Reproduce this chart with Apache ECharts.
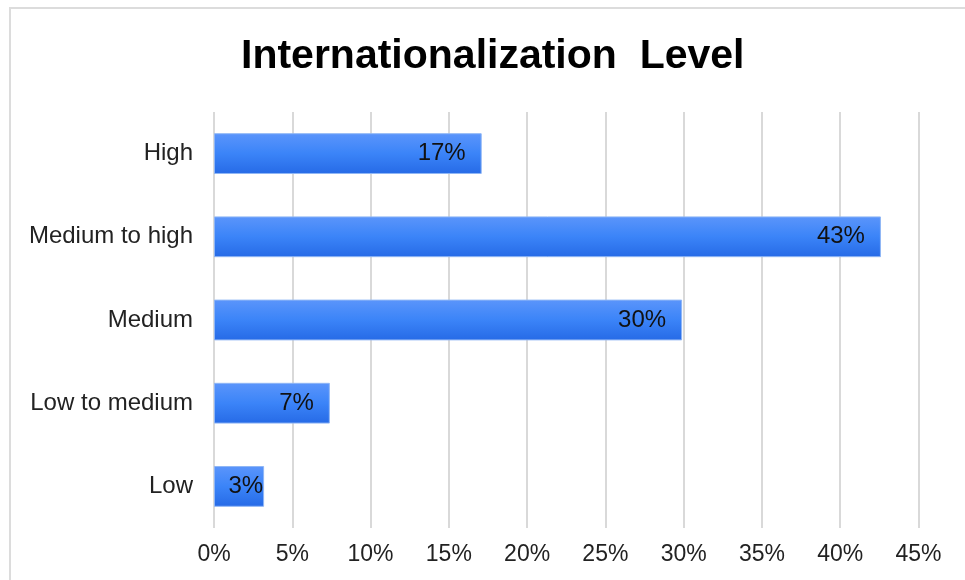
<!DOCTYPE html>
<html>
<head>
<meta charset="utf-8">
<script src="https://cdn.jsdelivr.net/npm/echarts@6/dist/echarts.min.js"></script>
<style>
html,body{margin:0;padding:0;background:#fff;}
#chart{width:965px;height:580px;}
</style>
</head>
<body>
<div id="chart"></div>
<script>
const categories = ["High", "Medium to high", "Medium", "Low to medium", "Low"];
const values = [17.1, 42.6, 29.9, 7.4, 3.2];
const tickLabels = ["0%", "5%", "10%", "15%", "20%", "25%", "30%", "35%", "40%", "45%"];
const titleText = "Internationalization  Level";

const chart = echarts.init(document.getElementById('chart'), null, {renderer: 'canvas'});
const font = '"Liberation Sans", Arial, sans-serif';
const seriesData = values.map(function (v) {
  return v < 5 ? {value: v, label: {distance: 1}} : v;
});
chart.setOption({
  animation: false,
  backgroundColor: '#ffffff',
  title: {
    text: titleText,
    left: 236,
    top: 31,
    textStyle: {fontFamily: font, fontSize: 41, fontWeight: 'bold', color: '#000'}
  },
  graphic: [{
    type: 'rect',
    shape: {x: 10, y: 8, width: 1000, height: 600},
    style: {fill: 'none', stroke: '#dcdcdc', lineWidth: 2},
    silent: true
  }],
  grid: {left: 214, right: 46.5, top: 112, bottom: 52, containLabel: false},
  xAxis: {
    type: 'value',
    min: 0, max: 45, interval: 5,
    axisLine: {show: false},
    axisTick: {show: false},
    splitLine: {show: true, lineStyle: {color: '#d9d9d9', width: 2}},
    axisLabel: {
      margin: 15,
      fontFamily: font, fontSize: 23, color: '#222',
      formatter: function (v) { return tickLabels[Math.round(v / 5)]; }
    }
  },
  yAxis: {
    type: 'category',
    data: categories,
    inverse: true,
    axisLine: {show: false},
    axisTick: {show: false},
    axisLabel: {margin: 21, fontFamily: font, fontSize: 24, color: '#222'}
  },
  series: [{
    type: 'bar',
    data: seriesData,
    barCategoryGap: '51%',
    itemStyle: {
      color: new echarts.graphic.LinearGradient(0, 0, 0, 1, [
        {offset: 0, color: '#5b95fb'},
        {offset: 0.5, color: '#3b84f8'},
        {offset: 1, color: '#266ae6'}
      ]),
      borderColor: '#8fb6f5',
      borderWidth: 1
    },
    label: {
      show: true,
      position: 'insideRight',
      distance: 16,
      fontFamily: font, fontSize: 24, color: '#111',
      formatter: function (p) { return Math.round(p.value) + '%'; }
    }
  }]
});
</script>
</body>
</html>
